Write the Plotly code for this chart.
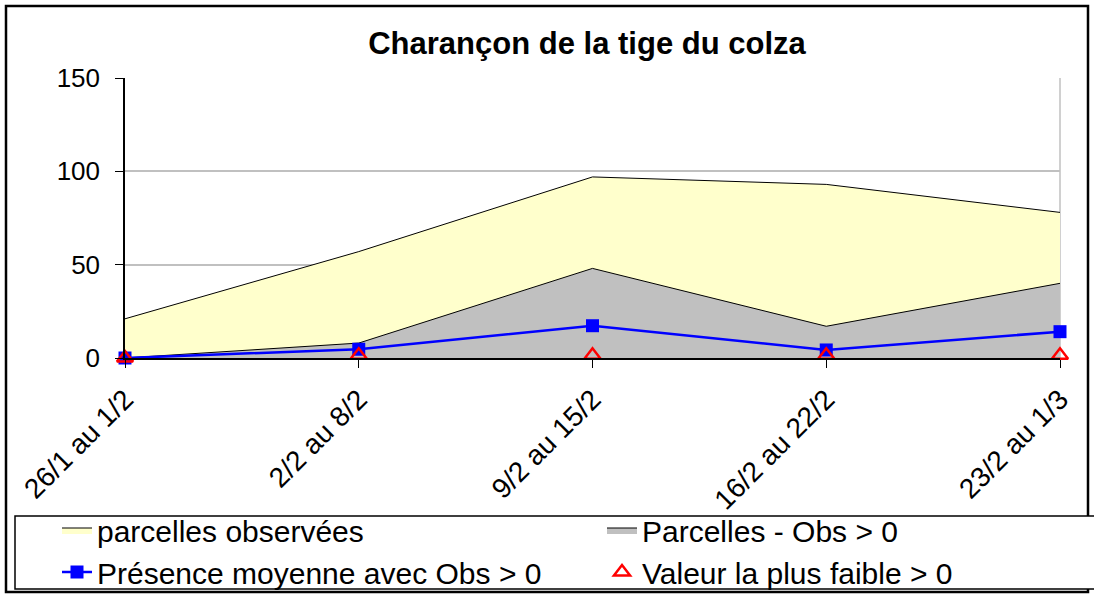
import plotly.graph_objects as go

categories = ["26/1 au 1/2", "2/2 au 8/2", "9/2 au 15/2", "16/2 au 22/2", "23/2 au 1/3"]
parcelles_observees = [21, 57, 97, 93, 78]
parcelles_obs_pos = [0, 8, 48, 17, 40]
presence_moyenne = [0, 4.7, 17.3, 4.3, 14.1]
valeur_min = [0, 1.5, 1.5, 1.5, 1.5]

FONT = "Liberation Sans, Arial, sans-serif"

L, R, T, B = 125, 34, 78, 236
W, H = 1094, 594
PW, PH = W - L - R, H - T - B

def px_x(p):
    return (p - L) / PW

def px_y(p):
    return (H - B - p) / PH

fig = go.Figure()
fig.add_trace(go.Scatter(
    x=categories, y=parcelles_observees, name="parcelles observées",
    mode="lines", fill="tozeroy", fillcolor="#FFFFCC",
    line=dict(color="black", width=1), legend="legend"))
fig.add_trace(go.Scatter(
    x=categories, y=parcelles_obs_pos, name="Parcelles - Obs > 0",
    mode="lines", fill="tozeroy", fillcolor="#C0C0C0",
    line=dict(color="black", width=1), legend="legend2"))
fig.add_trace(go.Scatter(
    x=categories, y=presence_moyenne, name="Présence moyenne avec Obs > 0",
    mode="lines+markers", line=dict(color="#0000FF", width=2.5),
    marker=dict(symbol="square", size=13, color="#0000FF"),
    cliponaxis=False, legend="legend"))
fig.add_trace(go.Scatter(
    x=categories, y=valeur_min, name="Valeur la plus faible > 0",
    mode="markers",
    marker=dict(symbol="triangle-up-open", size=14, color="#FF0000",
                line=dict(width=2.5, color="#FF0000")),
    cliponaxis=False, legend="legend2"))

# outer frame
fig.add_shape(type="rect", xref="paper", yref="paper",
              x0=px_x(6), x1=px_x(1088), y0=px_y(592), y1=px_y(6),
              line=dict(color="black", width=2.5), fillcolor="rgba(0,0,0,0)", layer="below")
# legend box
fig.add_shape(type="rect", xref="paper", yref="paper",
              x0=px_x(15), x1=px_x(1110), y0=px_y(589), y1=px_y(516),
              line=dict(color="black", width=1.5), fillcolor="white", layer="below")
# right plot border
fig.add_shape(type="line", xref="paper", yref="paper",
              x0=1, x1=1, y0=0, y1=1, line=dict(color="#C0C0C0", width=1.5), layer="below")

legend_common = dict(font=dict(family=FONT, size=30, color="black"),
                     bgcolor="rgba(0,0,0,0)", borderwidth=0,
                     xanchor="left", yanchor="top", orientation="v",
                     tracegroupgap=0, itemwidth=30)

fig.update_layout(
    width=W, height=H,
    margin=dict(l=L, r=R, t=T, b=B, autoexpand=False),
    paper_bgcolor="white", plot_bgcolor="white",
    title=dict(text="<b>Charançon de la tige du colza</b>",
               font=dict(family=FONT, size=31, color="black"),
               x=px_x(587), xref="paper", xanchor="center",
               y=1 - 43 / H, yref="container", yanchor="middle"),
    xaxis=dict(type="category", range=[0, 4], showgrid=False, automargin=False,
               showline=True, linecolor="black", linewidth=1.5,
               ticks="outside", ticklen=8, tickcolor="black", ticklabelstandoff=4,
               tickangle=-45, tickfont=dict(family=FONT, size=28, color="black")),
    yaxis=dict(range=[0, 150], dtick=50, showgrid=True, gridcolor="#C0C0C0", gridwidth=1.5,
               showline=True, linecolor="black", linewidth=1.5, zeroline=False, automargin=False,
               ticks="outside", ticklen=8, tickcolor="black", ticklabelstandoff=10,
               tickfont=dict(family=FONT, size=26, color="black")),
    legend=dict(x=px_x(57), y=px_y(504), **legend_common),
    legend2=dict(x=px_x(602), y=px_y(504), **legend_common),
    showlegend=True,
)

fig.write_html("out.html", config={"displayModeBar": False},
               post_script="document.body.style.margin='0';document.body.style.overflow='hidden';")
